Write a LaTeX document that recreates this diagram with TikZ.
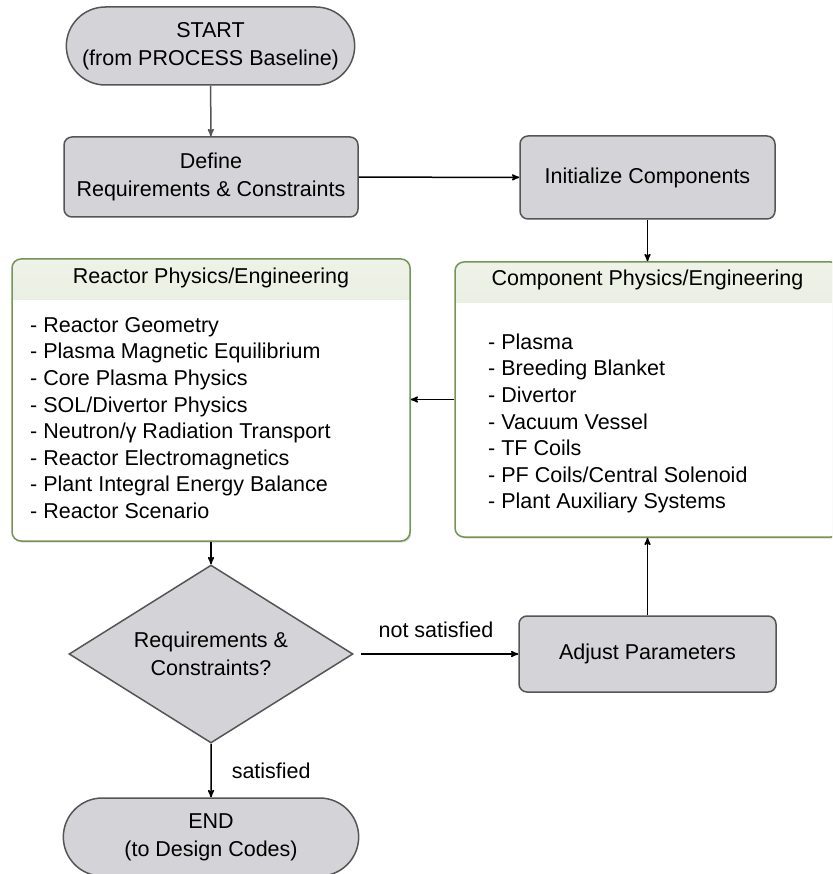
\documentclass[tikz,border=0pt]{standalone}
\usepackage{fontspec}
\setmainfont{Liberation Sans}
\usetikzlibrary{shapes,arrows,shadows}

\definecolor{boxGray}{RGB}{212,212,216}
\definecolor{edgeGray}{RGB}{85,85,85}
\definecolor{leafGreen}{RGB}{118,148,88}
\definecolor{hdrTop}{RGB}{238,242,232}
\definecolor{hdrBottom}{RGB}{214,225,201}

\tikzset{>=stealth'}
\tikzstyle{term} = [rounded rectangle, draw=edgeGray, fill=boxGray, line width=1.5pt,
align=center, minimum width=295pt, minimum height=78pt]
\tikzstyle{block} = [rectangle, draw=edgeGray, fill=boxGray, line width=1.5pt,
rounded corners=8pt, align=center]
\tikzstyle{decision} = [diamond, draw=edgeGray, fill=boxGray, line width=1.5pt, aspect=1.6,
inner sep=0pt, align=center, minimum width=284pt, minimum height=178pt]
\tikzstyle{panel} = [rectangle, draw=leafGreen, fill=white, line width=1.5pt, rounded corners=9pt,
drop shadow={shadow xshift=1.2pt, shadow yshift=-1.5pt, opacity=0.3},
path picture={\shade[sharp corners, top color=hdrTop, bottom color=hdrBottom]
(path picture bounding box.north west) rectangle ([yshift=-40pt]path picture bounding box.north east);}]
\tikzstyle{items} = [align=left, inner sep=0pt, anchor=north west,
font=\fontsize{21.5}{26.6}\selectfont]
\tikzstyle{tag} = [inner sep=2pt]
\tikzstyle{line} = [draw,->,line width=1.5pt]

\begin{document}
\begin{tikzpicture}[x=1pt,y=-1pt,font=\fontsize{21.5}{28}\selectfont]

   \useasboundingbox (0,0) rectangle (832,874);
   \clip (0,0) rectangle (832,874);

   \node[term] (start) at (210.5,46) {START\\(from PROCESS Baseline)};

   \node[block, minimum width=294pt, minimum height=80pt] (define) at (211,177)
        {Define\\Requirements \& Constraints};
   \node[block, minimum width=255pt, minimum height=83pt] (init) at (647.5,177.5)
        {Initialize Components};

   % Physics/engineering panels
   \node[panel, minimum width=398pt, minimum height=282pt] (reactor) at (211,400) {};
   \node[panel, minimum width=385pt, minimum height=275pt] (comp) at (647.5,399.5) {};

   \node (reactorTitle) at ([yshift=-20pt]reactor.north) {Reactor Physics/Engineering};
   \node (compTitle) at ([yshift=-19pt]comp.north) {Component Physics/Engineering};

   \node[items] (reactorList) at (30,317) {- Reactor Geometry\\- Plasma Magnetic Equilibrium\\
        - Core Plasma Physics\\- SOL/Divertor Physics\\- Neutron/γ Radiation Transport\\
        - Reactor Electromagnetics\\- Plant Integral Energy Balance\\- Reactor Scenario};
   \node[items] (compList) at (488,333.5) {- Plasma\\- Breeding Blanket\\- Divertor\\
        - Vacuum Vessel\\- TF Coils\\- PF Coils/Central Solenoid\\- Plant Auxiliary Systems};

   \node[decision] (check) at (211,654) {Requirements \&\\Constraints?};
   \node[block, minimum width=257pt, minimum height=76pt] (adjust) at (647.5,654)
        {Adjust Parameters};

   \node[term, minimum width=302pt] (finish) at (211,837) {END\\(to Design Codes)};

   %% Lines

   \path[line, draw=edgeGray] (start) -- (define);
   \path[line] (define) -- (init);
   \path[line] (init) -- (comp);
   \path[line] (comp.west) -- (reactor.east |- comp.west);
   \path[line] (reactor) -- (check);
   \path[line, shorten <=7pt] (check) -- node[tag, above=14pt] (noLabel) {not satisfied} (adjust);
   \path[line] (adjust) -- (comp);
   \path[line] (check) -- node[tag, right=18pt] (yesLabel) {satisfied} (finish);

\end{tikzpicture}
\end{document}
